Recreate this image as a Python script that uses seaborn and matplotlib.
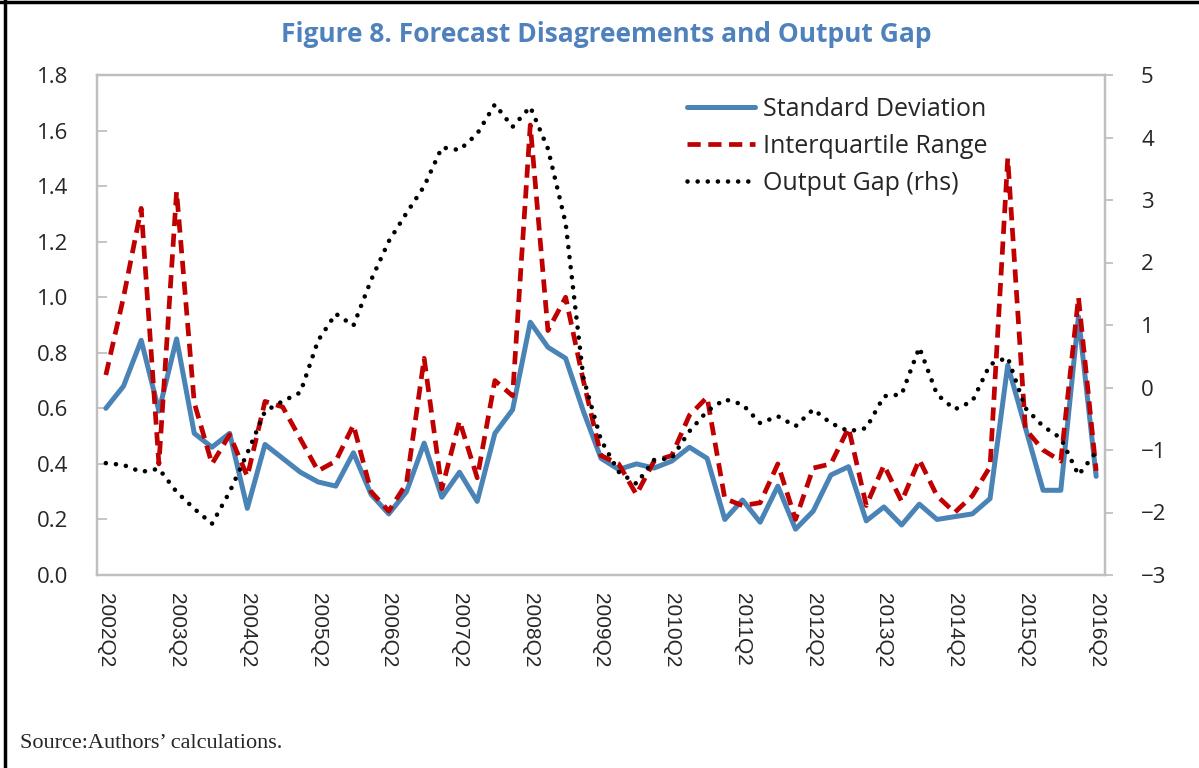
import matplotlib
matplotlib.use("Agg")
import matplotlib.pyplot as plt
import matplotlib.lines as mlines
import numpy as np
import pandas as pd
import seaborn as sns

# ---- data ----
years = list(range(2002, 2017))
quarters = [f"{y}Q{q}" for y in range(2002, 2017) for q in range(1, 5)][1:58]  # 2002Q2 .. 2016Q2
tick_labels = [f"{y}Q2" for y in years]

std_dev = [0.60, 0.68, 0.845, 0.59, 0.85, 0.51, 0.46, 0.51, 0.24, 0.47,
           0.42, 0.37, 0.335, 0.32, 0.44, 0.29, 0.22, 0.30, 0.475, 0.28,
           0.37, 0.265, 0.51, 0.595, 0.91, 0.82, 0.78, 0.59, 0.42, 0.38,
           0.40, 0.385, 0.41, 0.46, 0.42, 0.20, 0.27, 0.19, 0.32, 0.165,
           0.23, 0.36, 0.39, 0.195, 0.245, 0.18, 0.255, 0.20, 0.21, 0.22,
           0.275, 0.755, 0.53, 0.305, 0.305, 0.93, 0.355]

iqr = [0.72, 1.00, 1.32, 0.40, 1.38, 0.62, 0.40, 0.505, 0.355, 0.625,
       0.605, 0.49, 0.375, 0.41, 0.54, 0.30, 0.23, 0.33, 0.78, 0.31,
       0.555, 0.35, 0.70, 0.645, 1.62, 0.88, 1.00, 0.70, 0.43, 0.40,
       0.29, 0.41, 0.43, 0.575, 0.64, 0.275, 0.25, 0.26, 0.40, 0.20,
       0.385, 0.40, 0.53, 0.25, 0.395, 0.265, 0.415, 0.285, 0.225, 0.285,
       0.39, 1.50, 0.525, 0.45, 0.41, 1.00, 0.375]

output_gap = [-1.21, -1.24, -1.35, -1.30, -1.67, -1.94, -2.18, -1.67, -1.05, -0.38,
              -0.22, -0.08, 0.75, 1.18, 0.99, 1.72, 2.34, 2.79, 3.22, 3.84,
              3.80, 4.06, 4.53, 4.17, 4.49, 3.82, 2.63, 0.16, -0.84, -1.35,
              -1.54, -1.16, -1.13, -0.70, -0.38, -0.19, -0.27, -0.57, -0.46, -0.62,
              -0.35, -0.57, -0.70, -0.65, -0.14, -0.11, 0.64, -0.11, -0.35, -0.22,
              0.37, 0.48, -0.33, -0.62, -0.81, -1.40, -1.03]

df = pd.DataFrame({"quarter": quarters, "idx": np.arange(len(quarters)),
                   "std": std_dev, "iqr": iqr, "gap": output_gap})

# ---- style ----
sns.set_style("white")
plt.rcParams["font.family"] = ["Open Sans", "DejaVu Sans"]

W, H = 1199, 768
fig = plt.figure(figsize=(W / 100, H / 100), dpi=100)
ax = fig.add_axes([97 / W, 1 - 575 / H, (1105 - 97) / W, (575 - 75) / H])
ax2 = ax.twinx()

BLUE = "#4A84B6"
RED = "#C00000"
GRID = "#BFBFBF"

sns.lineplot(data=df, x="idx", y="std", ax=ax, color=BLUE, linewidth=3.6,
             label="Standard Deviation", legend=False)
sns.lineplot(data=df, x="idx", y="iqr", ax=ax, color=RED, linewidth=3.4,
             label="Interquartile Range", legend=False)
ax.lines[1].set_dashes([2.8, 1.6])
sns.lineplot(data=df, x="idx", y="gap", ax=ax2, color="black", linewidth=3.3,
             label="Output Gap (rhs)", legend=False)
ax2.lines[0].set_dashes([0.01, 2.2])
ax2.lines[0].set_dash_capstyle("round")

n = len(quarters)
ax.set_xlim(-0.5, n - 0.5)
ax.set_ylim(0, 1.8)
ax2.set_ylim(-3, 5)
ax.set_yticks(np.arange(0, 1.81, 0.2))
ax.set_yticklabels([f"{v:.1f}" for v in np.arange(0, 1.81, 0.2)])
ax2.set_yticks(range(-3, 6))
ax.set_xticks(np.arange(0, n, 4))
ax.set_xticklabels(tick_labels, rotation=270, family=["Liberation Sans"], fontsize=15)
ax.set_xticks(np.arange(-0.5, n, 1), minor=True)
ax.tick_params(axis="x", which="major", length=0, pad=13)
ax.tick_params(axis="x", which="minor", length=6, width=1.3, color=GRID, direction="in")
ax.tick_params(axis="y", length=7, width=1.3, color=GRID, direction="in", pad=21, labelsize=16)
ax2.tick_params(axis="y", length=6, width=1.3, color=GRID, direction="out", pad=20, labelsize=16)
ax.set_xlabel("")
ax.set_ylabel("")
ax2.set_ylabel("")
for a in (ax, ax2):
    for s in a.spines.values():
        s.set_color(GRID)
        s.set_linewidth(1.6)
        s.set_visible(True)
ax.grid(False)
ax2.grid(False)

handles = [ax.lines[0], ax.lines[1], ax2.lines[0]]
labels = ["Standard Deviation", "Interquartile Range", "Output Gap (rhs)"]
fig.legend(handles, labels, loc="upper left", bbox_to_anchor=(687 / W, 1 - 97 / H),
           frameon=False, fontsize=18, handlelength=2.72, handletextpad=0.32,
           labelspacing=0.48, borderpad=0, borderaxespad=0)

fig.text(606 / W, 1 - 34 / H, "Figure 8. Forecast Disagreements and Output Gap",
         ha="center", va="center", fontsize=19, fontweight="bold", color="#4F81BD")
fig.text(20 / W, 1 - 744 / H, "Source:Authors\u2019 calculations.", ha="left", va="center",
         fontsize=16, family=["Liberation Serif"])

# figure border (top and left)
fig.add_artist(mlines.Line2D([0, 1], [1 - 1.5 / H, 1 - 1.5 / H], transform=fig.transFigure,
                             color="black", linewidth=2.5))
fig.add_artist(mlines.Line2D([5 / W, 5 / W], [0, 1], transform=fig.transFigure,
                             color="black", linewidth=2.5))

fig.savefig("out.png", dpi=100)
